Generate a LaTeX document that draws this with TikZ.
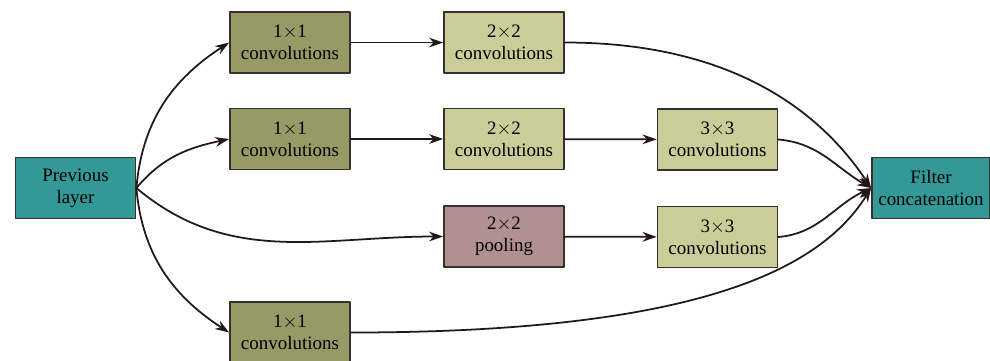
\documentclass[tikz,border=0pt]{standalone}
\usepackage{fontspec}
\setmainfont{Liberation Serif}
\usetikzlibrary{arrows.meta}
\definecolor{tealbox}{RGB}{51,153,150}
\definecolor{olivebox}{RGB}{153,153,102}
\definecolor{khakibox}{RGB}{204,204,153}
\definecolor{mauvebox}{RGB}{176,144,144}
\definecolor{edge}{RGB}{35,24,21}
\tikzset{
	blk/.style={draw=edge!90, line width=1pt, minimum width=120*0.02cm, minimum height=61*0.02cm, align=center, inner sep=0pt, font=\fontsize{10.8}{12.5}\selectfont},
	conn/.style={->, draw=edge, line width=1pt}
}
\begin{document}
\begin{tikzpicture}[x=0.02cm, y=-0.02cm, >={Stealth[length=8pt,width=5.5pt]}, line join=round, line cap=round]
	\useasboundingbox (0,0) rectangle (990,360);
	% boxes
	\node[blk, fill=tealbox] (prev) at (75.5,188) {Previous\\layer};
	\node[blk, fill=olivebox] (ca) at (290,42.5) {1$\times$1\\convolutions};
	\node[blk, fill=olivebox] (cb) at (290,139) {1$\times$1\\convolutions};
	\node[blk, fill=olivebox] (cd) at (290,332.5) {1$\times$1\\convolutions};
	\node[blk, fill=khakibox] (ta) at (504,42.5) {2$\times$2\\convolutions};
	\node[blk, fill=khakibox] (tb) at (504,139) {2$\times$2\\convolutions};
	\node[blk, fill=mauvebox] (pool) at (504,236.5) {2$\times$2\\pooling};
	\node[blk, fill=khakibox] (hb) at (717.5,139.5) {3$\times$3\\convolutions};
	\node[blk, fill=khakibox] (hc) at (717.5,237) {3$\times$3\\convolutions};
	\node[blk, fill=tealbox, minimum width=118*0.02cm] (filt) at (931,188) {Filter\\concatenation};
	% connectors from previous layer
	\draw[conn] (prev.east) to[out=85, in=213] (ca.west);
	\draw[conn] (prev.east) to[out=50, in=192] (cb.west);
	\draw[conn] (prev.east) to[out=-40, in=180] (pool.west);
	\draw[conn] (prev.east) to[out=-85, in=147] (cd.west);
	% straight ones
	\draw[conn] (ca) -- (ta);
	\draw[conn] (cb) -- (tb);
	\draw[conn] (tb) -- (hb);
	\draw[conn] (pool) -- (hc);
	% into filter concatenation
	\draw[conn] (ta.east) .. controls +(150,0) and +(-60,-90) .. (filt.west);
	\draw[conn] (hb.east) to[out=-5, in=150] (filt.west);
	\draw[conn] (hc.east) to[out=5, in=205] (filt.west);
	\draw[conn] (cd.east) .. controls +(350,0) and +(-50,80) .. (filt.west);
\end{tikzpicture}
\end{document}
